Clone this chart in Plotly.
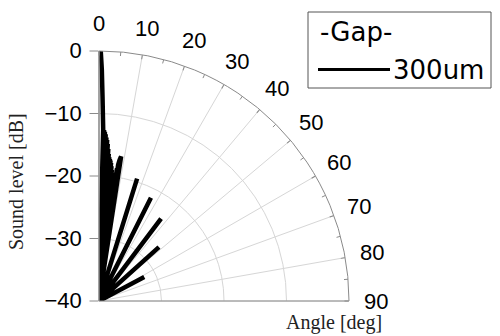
import math
import plotly.graph_objects as go

# Directivity of the 300 um gap: angle [deg] vs sound level [dB]
angle_deg = [0.4, 0.7, 1.0, 1.4, 1.55, 1.7, 1.85, 2.0, 2.15, 2.3, 2.45, 2.6, 2.75,
             2.9, 3.05, 3.2, 3.35, 3.5, 3.65, 3.8, 3.95, 4.1, 4.25, 4.4, 4.55,
             4.7, 4.85, 5.0, 5.15, 5.3, 5.45, 5.6, 5.75, 5.9, 6.05, 6.2, 6.35,
             6.5, 6.65, 6.8, 6.95, 7.1, 7.25, 7.4, 7.55, 7.7, 7.85, 8.0, 8.3,
             8.7, 9.6,
             16.4, 17.3, 18.2,
             25.8, 26.7, 27.6,
             36.1, 37.0, 37.9,
             47.1, 48.0, 48.9,
             61.2, 62.0, 62.8,
             90.0]
level_db = [0.0, -3.0, -7.5, -12.5, -40.0, -12.6, -40.0, -12.9, -40.0, -13.3, -40.0, -13.8, -40.0,
            -14.2, -40.0, -14.8, -40.0, -15.6, -40.0, -16.4, -40.0, -16.9, -40.0, -17.2, -40.0,
            -17.4, -40.0, -17.8, -40.0, -18.3, -40.0, -18.9, -40.0, -19.6, -40.0, -20.4, -40.0,
            -21.0, -40.0, -20.6, -40.0, -20.0, -40.0, -19.3, -40.0, -18.6, -40.0, -18.0, -17.2,
            -16.6, -40.0,
            -40.0, -19.5, -40.0,
            -40.0, -21.5, -40.0,
            -40.0, -23.5, -40.0,
            -40.0, -27.1, -40.0,
            -40.0, -31.8, -40.0,
            -40.0]

series_name = "300um"
legend_title = "-Gap-"

angle_ticks = list(range(0, 91, 10))
minor_angle_ticks = list(range(5, 91, 10))
level_ticks = [-40, -30, -20, -10, 0]
level_range = [-40, 0]

SANS = "Liberation Sans, Arial, sans-serif"
SERIF = "Liberation Serif, Times New Roman, serif"
AXIS_GRAY = "#8a8a8a"
GRID_GRAY = "#d6d6d6"

W, H = 500, 336
cx, cy, R = 99, 301, 250      # pole position and outer radius in pixels
label_radius = 277            # centre of the angle labels, in pixels from the pole

fig = go.Figure()

# measured pattern
fig.add_trace(go.Scatterpolar(
    r=level_db, theta=angle_deg, mode="lines", name=series_name,
    line=dict(color="black", width=4.5), showlegend=False,
))

# short inward minor ticks on the outer arc (every 5 deg between labels)
tick_r, tick_t = [], []
for a in minor_angle_ticks:
    tick_r += [level_range[1] - 0.65, level_range[1], None]
    tick_t += [a, a, None]
fig.add_trace(go.Scatterpolar(
    r=tick_r, theta=tick_t, mode="lines", line=dict(color=AXIS_GRAY, width=1),
    showlegend=False, hoverinfo="skip",
))

fig.update_layout(
    width=W, height=H, margin=dict(l=0, r=0, t=0, b=0),
    paper_bgcolor="white", plot_bgcolor="white",
    polar=dict(
        domain=dict(x=[cx / W, (cx + R) / W], y=[(H - cy) / H, (H - cy + R) / H]),
        sector=[0, 90],
        bgcolor="white",
        angularaxis=dict(
            rotation=90, direction="clockwise",
            tickmode="array", tickvals=angle_ticks,
            ticks="inside", ticklen=4, tickcolor=AXIS_GRAY,
            showticklabels=False,
            showline=True, linecolor=AXIS_GRAY, linewidth=1,
            showgrid=True, gridcolor=GRID_GRAY, gridwidth=1,
        ),
        radialaxis=dict(
            range=level_range, angle=90, side="counterclockwise",
            tickmode="array", tickvals=level_ticks,
            ticks="outside", ticklen=9, tickcolor=AXIS_GRAY,
            showline=True, linecolor=AXIS_GRAY, linewidth=1,
            showgrid=True, gridcolor=GRID_GRAY, gridwidth=1,
            tickfont=dict(family=SANS, size=22, color="black"),
            tickangle=90,
        ),
    ),
)

# angle labels around the outer arc
for a in angle_ticks:
    px = cx + label_radius * math.sin(math.radians(a))
    py = cy - label_radius * math.cos(math.radians(a))
    fig.add_annotation(
        x=px / W, y=1 - py / H, xref="paper", yref="paper", showarrow=False,
        text=str(a), font=dict(family=SANS, size=22, color="black"),
        xanchor="center", yanchor="middle",
    )

# axis titles
fig.add_annotation(
    x=16 / W, y=1 - 182 / H, xref="paper", yref="paper", showarrow=False,
    text="Sound level [dB]", textangle=-90,
    font=dict(family=SERIF, size=20, color="#222222"),
    xanchor="center", yanchor="middle",
)
fig.add_annotation(
    x=334 / W, y=1 - 322 / H, xref="paper", yref="paper", showarrow=False,
    text="Angle [deg]", font=dict(family=SERIF, size=20, color="#222222"),
    xanchor="center", yanchor="middle",
)

# legend box
fig.add_shape(type="rect", xref="paper", yref="paper",
              x0=308 / W, x1=491 / W, y0=1 - 88 / H, y1=1 - 12 / H,
              line=dict(color="#555555", width=1), fillcolor="white")
fig.add_shape(type="line", xref="paper", yref="paper",
              x0=318 / W, x1=390 / W, y0=1 - 69.5 / H, y1=1 - 69.5 / H,
              line=dict(color="black", width=3))
fig.add_annotation(
    x=318 / W, y=1 - 32 / H, xref="paper", yref="paper", showarrow=False,
    text=legend_title, font=dict(family="DejaVu Sans, sans-serif", size=26, color="black"),
    xanchor="left", yanchor="middle",
)
fig.add_annotation(
    x=391 / W, y=1 - 70 / H, xref="paper", yref="paper", showarrow=False,
    text=series_name, font=dict(family="DejaVu Sans, sans-serif", size=26, color="black"),
    xanchor="left", yanchor="middle",
)

fig.write_html("out.html")
